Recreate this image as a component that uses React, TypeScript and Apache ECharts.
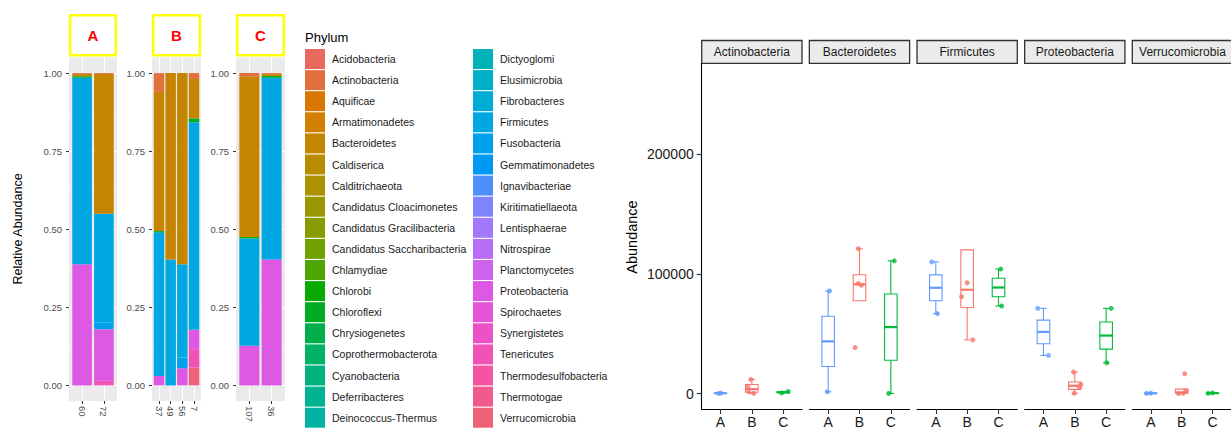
import React, { useEffect, useRef } from 'react';
import * as echarts from 'echarts';

const FONT = "'Liberation Sans', Arial, Helvetica, sans-serif";

// ---------- data ----------
const phyla = [
  'Acidobacteria', 'Actinobacteria', 'Aquificae', 'Armatimonadetes', 'Bacteroidetes', 'Caldiserica',
  'Calditrichaeota', 'Candidatus Cloacimonetes', 'Candidatus Gracilibacteria', 'Candidatus Saccharibacteria',
  'Chlamydiae', 'Chlorobi', 'Chloroflexi', 'Chrysiogenetes', 'Coprothermobacterota', 'Cyanobacteria',
  'Deferribacteres', 'Deinococcus-Thermus', 'Dictyoglomi', 'Elusimicrobia', 'Fibrobacteres', 'Firmicutes',
  'Fusobacteria', 'Gemmatimonadetes', 'Ignavibacteriae', 'Kiritimatiellaeota', 'Lentisphaerae', 'Nitrospirae',
  'Planctomycetes', 'Proteobacteria', 'Spirochaetes', 'Synergistetes', 'Tenericutes', 'Thermodesulfobacteria',
  'Thermotogae', 'Verrucomicrobia',
];

const groupNames = ['A', 'B', 'C'];
const sampleIds = ['60', '72', '37', '49', '56', '7', '107', '36'];
const sampleGroup = ['A', 'A', 'B', 'B', 'B', 'B', 'C', 'C'];

// relative abundance, in the order of sampleIds
const relActinobacteria = [0.003, 0.003, 0.06, 0, 0, 0.019, 0.01, 0.003];
const relBacteroidetes = [0.007, 0.447, 0.446, 0.597, 0.612, 0.126, 0.515, 0.006];
const relChloroflexi = [0.005, 0, 0.004, 0, 0, 0.012, 0.005, 0.006];
const relFirmicutes = [0.597, 0.348, 0.46, 0.403, 0.299, 0.665, 0.343, 0.582];
const relFusobacteria = [0, 0.022, 0, 0, 0.034, 0, 0, 0];
const relProteobacteria = [0.388, 0.165, 0.03, 0, 0.055, 0.062, 0.127, 0.403];
const relTenericutes = [0, 0.015, 0, 0, 0, 0.059, 0, 0];
const relVerrucomicrobia = [0, 0, 0, 0, 0, 0.057, 0, 0];

const relByPhylum: Record<string, number[]> = {
  Actinobacteria: relActinobacteria,
  Bacteroidetes: relBacteroidetes,
  Chloroflexi: relChloroflexi,
  Firmicutes: relFirmicutes,
  Fusobacteria: relFusobacteria,
  Proteobacteria: relProteobacteria,
  Tenericutes: relTenericutes,
  Verrucomicrobia: relVerrucomicrobia,
};

const relTicks = [0, 0.25, 0.5, 0.75, 1];
const relMinorTicks = [0.125, 0.375, 0.625, 0.875];

// boxplot panels
const boxPhyla = ['Actinobacteria', 'Bacteroidetes', 'Firmicutes', 'Proteobacteria', 'Verrucomicrobia'];
const yTicks = [0, 100000, 200000];
// [whisker low, Q1, median, Q3, whisker high] for groups A, B, C
const boxActinobacteria = [[200, 275, 350, 425, 500], [300, 1200, 3850, 7625, 11900], [600, 900, 1200, 1500, 1800]];
const boxBacteroidetes = [[1600, 22625, 43650, 64675, 85700], [90500, 77500, 91250, 99250, 121000], [200, 27875, 55550, 83225, 110900]];
const boxFirmicutes = [[66800, 77600, 88400, 99200, 110000], [44900, 71900, 86750, 120000, 92600], [73200, 80900, 88600, 96300, 104000]];
const boxProteobacteria = [[31900, 41725, 51550, 61375, 71200], [300, 3600, 6600, 9700, 18000], [25800, 37150, 48500, 59850, 71200]];
const boxVerrucomicrobia = [[200, 250, 300, 350, 400], [100, 300, 1000, 3800, 2500], [300, 375, 450, 525, 600]];
const boxStats = [boxActinobacteria, boxBacteroidetes, boxFirmicutes, boxProteobacteria, boxVerrucomicrobia];

// points: [horizontal jitter in category units, abundance] for groups A, B, C
const ptsActinobacteria = [[[-0.06, 200], [0.01, 500]], [[-0.03, 11900], [-0.13, 6200], [-0.1, 1500], [0.06, 300]], [[-0.05, 600], [0.16, 1800]]];
const ptsBacteroidetes = [[[0.04, 85700], [-0.03, 1600]], [[-0.04, 121000], [-0.04, 92000], [0.06, 90500], [-0.14, 38500]], [[0.11, 110900], [-0.07, 200]]];
const ptsFirmicutes = [[[-0.13, 110000], [0.05, 66800]], [[0, 92600], [-0.18, 80900], [0.18, 44900]], [[0.07, 104000], [0.1, 73200]]];
const ptsProteobacteria = [[[-0.18, 71200], [0.16, 31900]], [[-0.04, 18000], [-0.02, 300], [0.14, 5500], [0.19, 7700]], [[0.16, 71200], [0.02, 25800]]];
const ptsVerrucomicrobia = [[[-0.14, 200], [0, 400]], [[0.1, 16600], [-0.1, 100], [0.05, 300], [0.15, 2500]], [[-0.14, 300], [0, 600]]];
const points = [ptsActinobacteria, ptsBacteroidetes, ptsFirmicutes, ptsProteobacteria, ptsVerrucomicrobia];

const groupColors = ['#619CFF', '#F8766D', '#00BA38'];

// ---------- ggplot-like hue palette ----------
function hcl(h: number, c: number, l: number): string {
  const hr = (h * Math.PI) / 180;
  const U = c * Math.cos(hr);
  const V = c * Math.sin(hr);
  const Xn = 95.047, Yn = 100, Zn = 108.883;
  const Y = l > 8 ? Yn * Math.pow((l + 16) / 116, 3) : (Yn * l) / 903.3;
  const den = Xn + 15 * Yn + 3 * Zn;
  const un = (4 * Xn) / den, vn = (9 * Yn) / den;
  const u = U / (13 * l) + un;
  const v = V / (13 * l) + vn;
  const X = (9 * Y * u) / (4 * v);
  const Z = -X / 3 - 5 * Y + (3 * Y) / v;
  const x = X / 100, y = Y / 100, z = Z / 100;
  const lin = [
    3.240479 * x - 1.53715 * y - 0.498535 * z,
    -0.969256 * x + 1.875992 * y + 0.041556 * z,
    0.055648 * x - 0.204043 * y + 1.057311 * z,
  ];
  return (
    '#' +
    lin
      .map((t) => {
        let s = t <= 0.0031308 ? 12.92 * t : 1.055 * Math.pow(t, 1 / 2.4) - 0.055;
        s = Math.min(1, Math.max(0, s));
        const k = Math.round(s * 255).toString(16);
        return k.length < 2 ? '0' + k : k;
      })
      .join('')
  );
}
const phylumColors = phyla.map((_, i) => hcl(15 + (360 / phyla.length) * i, 100, 60));

// ---------- layout ----------
const leftPanels = [
  { left: 69, width: 48 },
  { left: 152, width: 49 },
  { left: 236, width: 49 },
];
const LTOP = 57.5;
const LH = 343.5;
const RLEFT = 701.7;
const RSTEP = 107.65;
const RW = 100.3;
const RTOP = 63.5;
const RH = 346.5;

function buildOption() {
  const grid: any[] = [];
  const xAxis: any[] = [];
  const yAxis: any[] = [];
  const series: any[] = [];
  const graphic: any[] = [];

  groupNames.forEach((g, f) => {
    const idxs = sampleIds.map((_, i) => i).filter((i) => sampleGroup[i] === g);
    const n = idxs.length;
    const labels = idxs.map((i) => sampleIds[i]);
    const P = leftPanels[f];
    const unit = P.width / (n + 0.2);

    // background panel with axes and grid lines
    grid.push({ left: P.left, top: LTOP, width: P.width, height: LH, show: true, backgroundColor: '#EBEBEB', borderWidth: 0 });
    const gi = grid.length - 1;
    const cats = idxs.map((_, k) => k + 1);
    xAxis.push({
      gridIndex: gi, type: 'value', min: 0.4, max: n + 0.6,
      axisLine: { show: false, onZero: false },
      axisTick: { show: true, customValues: cats, length: 3, lineStyle: { color: '#333', width: 1 } },
      axisLabel: {
        customValues: cats, formatter: (v: number) => labels[Math.round(v) - 1],
        rotate: -90, fontSize: 9.5, color: '#4D4D4D', margin: 5, fontFamily: FONT,
      },
      splitLine: { show: true, lineStyle: { color: '#FFFFFF', width: 1 } },
    });
    yAxis.push({
      gridIndex: gi, type: 'value', min: -0.05, max: 1.05,
      axisLine: { show: false },
      axisTick: { show: true, customValues: relTicks, length: 3, lineStyle: { color: '#333', width: 1 } },
      axisLabel: { customValues: relTicks, formatter: (v: number) => v.toFixed(2), fontSize: 9.5, color: '#4D4D4D', margin: 7, fontFamily: FONT },
      splitLine: { show: true, lineStyle: { color: '#FFFFFF', width: 1 } },
    });
    yAxis.push({
      gridIndex: gi, type: 'value', min: -0.05, max: 1.05,
      axisLine: { show: false },
      axisTick: { show: false, customValues: relMinorTicks },
      axisLabel: { show: false, customValues: relMinorTicks },
      splitLine: { show: true, lineStyle: { color: '#FFFFFF', width: 0.5 } },
    });

    // overlay grid for the stacked bars (category bands)
    grid.push({ left: P.left + 0.1 * unit, top: LTOP, width: n * unit, height: LH });
    const bgi = grid.length - 1;
    xAxis.push({ gridIndex: bgi, type: 'category', data: labels, show: false, splitLine: { show: false } });
    const bxi = xAxis.length - 1;
    yAxis.push({ gridIndex: bgi, type: 'value', min: -0.05, max: 1.05, show: false, splitLine: { show: false } });
    const byi = yAxis.length - 1;

    for (let p = phyla.length - 1; p >= 0; p--) {
      const name = phyla[p];
      const vals = relByPhylum[name];
      series.push({
        type: 'bar', name, xAxisIndex: bxi, yAxisIndex: byi, stack: 'facet' + f,
        barWidth: '90%', itemStyle: { color: phylumColors[p] },
        data: idxs.map((si) => (vals ? vals[si] : 0)),
      });
    }
    graphic.push({
      type: 'rect', shape: { x: P.left + 1.2, y: 15.2, width: P.width - 2.4, height: 40 },
      style: { fill: '#FFFFFF', stroke: '#FFFF00', lineWidth: 2.5 },
    });
    graphic.push({
      type: 'text', x: P.left + P.width / 2, y: 35.5,
      style: { text: g, fill: '#FF0000', font: `bold 15px ${FONT}`, align: 'center', verticalAlign: 'middle' },
    });
  });

  boxPhyla.forEach((name, i) => {
    const left = RLEFT + i * RSTEP;
    grid.push({ left, top: RTOP, width: RW, height: RH });
    const gi = grid.length - 1;
    xAxis.push({
      gridIndex: gi, type: 'value', min: 0.4, max: 3.6,
      axisLine: { show: true, onZero: false, lineStyle: { color: '#000', width: 1.1 } },
      axisTick: { show: true, customValues: [1, 2, 3], length: 5, lineStyle: { color: '#333', width: 1.1 } },
      axisLabel: { customValues: [1, 2, 3], formatter: (v: number) => groupNames[Math.round(v) - 1], fontSize: 14, color: '#1A1A1A', margin: 6, fontFamily: FONT },
      splitLine: { show: false },
    });
    const xi = xAxis.length - 1;
    yAxis.push({
      gridIndex: gi, type: 'value', min: -12800, max: 275600,
      axisLine: { show: i === 0, onZero: false, lineStyle: { color: '#000', width: 1.1 } },
      axisTick: { show: i === 0, customValues: yTicks, length: 5, lineStyle: { color: '#333', width: 1.1 } },
      axisLabel: { show: i === 0, customValues: yTicks, formatter: (v: number) => String(Math.round(v)), fontSize: 14, color: '#1A1A1A', margin: 8, fontFamily: FONT },
      splitLine: { show: false },
    });
    const yi = yAxis.length - 1;
    series.push({
      type: 'custom', xAxisIndex: xi, yAxisIndex: yi, z: 2,
      encode: { x: 0, y: [1, 2, 3, 4, 5] },
      data: boxStats[i].map((s, k) => [k + 1, ...s, k]),
      renderItem: (params: any, api: any) => {
        const x = api.value(0);
        const lo = api.value(1), q1 = api.value(2), med = api.value(3), q3 = api.value(4), hi = api.value(5);
        const color = groupColors[api.value(6)];
        const half = api.size([0.4, 0])[0] / 2;
        const cap = api.size([0.2, 0])[0] / 2;
        const pLo = api.coord([x, lo]);
        const pHi = api.coord([x, hi]);
        const pQ1 = api.coord([x, q1]);
        const pQ3 = api.coord([x, q3]);
        const pMed = api.coord([x, med]);
        const ls = { stroke: color, lineWidth: 1.1 };
        return {
          type: 'group',
          children: [
            { type: 'line', shape: { x1: pLo[0], y1: pLo[1], x2: pHi[0], y2: pHi[1] }, style: ls },
            { type: 'line', shape: { x1: pLo[0] - cap, y1: pLo[1], x2: pLo[0] + cap, y2: pLo[1] }, style: ls },
            { type: 'line', shape: { x1: pHi[0] - cap, y1: pHi[1], x2: pHi[0] + cap, y2: pHi[1] }, style: ls },
            { type: 'rect', shape: { x: pQ3[0] - half, y: pQ3[1], width: half * 2, height: Math.max(pQ1[1] - pQ3[1], 0.3) }, style: { fill: '#FFFFFF', stroke: color, lineWidth: 1.1 } },
            { type: 'line', shape: { x1: pMed[0] - half, y1: pMed[1], x2: pMed[0] + half, y2: pMed[1] }, style: { stroke: color, lineWidth: 2.2 } },
          ],
        };
      },
    });
    const pts: any[] = [];
    points[i].forEach((grp, k) => {
      grp.forEach((pt) => {
        pts.push({ value: [k + 1 + pt[0], pt[1]], itemStyle: { color: groupColors[k] } });
      });
    });
    series.push({
      type: 'scatter', xAxisIndex: xi, yAxisIndex: yi, z: 3, symbolSize: 5, data: pts,
    });
    graphic.push({
      type: 'rect', shape: { x: left, y: 40.5, width: RW, height: 22.8 },
      style: { fill: '#EBEBEB', stroke: '#333333', lineWidth: 1.3 },
    });
    graphic.push({
      type: 'text', x: left + RW / 2, y: 52,
      style: { text: name, fill: '#1A1A1A', font: `12px ${FONT}`, align: 'center', verticalAlign: 'middle' },
    });
  });

  graphic.push({
    type: 'text', x: 18, y: 229, rotation: Math.PI / 2,
    style: { text: 'Relative Abundance', fill: '#000000', font: `12.5px ${FONT}`, align: 'center', verticalAlign: 'middle' },
  });
  graphic.push({
    type: 'text', x: 305, y: 37,
    style: { text: 'Phylum', fill: '#000000', font: `13px ${FONT}`, align: 'left', verticalAlign: 'middle' },
  });
  graphic.push({
    type: 'text', x: 632, y: 237, rotation: Math.PI / 2,
    style: { text: 'Abundance', fill: '#000000', font: `14.5px ${FONT}`, align: 'center', verticalAlign: 'middle' },
  });

  const legendBase = {
    orient: 'vertical', itemWidth: 20, itemHeight: 20, itemGap: 1.1, icon: 'rect',
    selectedMode: false, padding: 0, height: 385,
    textStyle: { fontSize: 10.5, color: '#1A1A1A', fontFamily: FONT, padding: [0, 0, 0, 2] },
  };

  return {
    animation: false,
    backgroundColor: '#FFFFFF',
    textStyle: { fontFamily: FONT },
    grid, xAxis, yAxis, series,
    legend: [
      { ...legendBase, left: 305, top: 49, data: phyla.slice(0, 18) },
      { ...legendBase, left: 473, top: 49, data: phyla.slice(18) },
    ],
    graphic: { elements: graphic },
  };
}

export default function App() {
  const ref = useRef<HTMLDivElement>(null);
  useEffect(() => {
    document.body.style.margin = '0';
    const chart = echarts.init(ref.current!, undefined, { renderer: 'svg', width: 1231, height: 429 });
    chart.setOption(buildOption() as any);
    return () => chart.dispose();
  }, []);
  return <div ref={ref} style={{ width: 1231, height: 429 }} />;
}
